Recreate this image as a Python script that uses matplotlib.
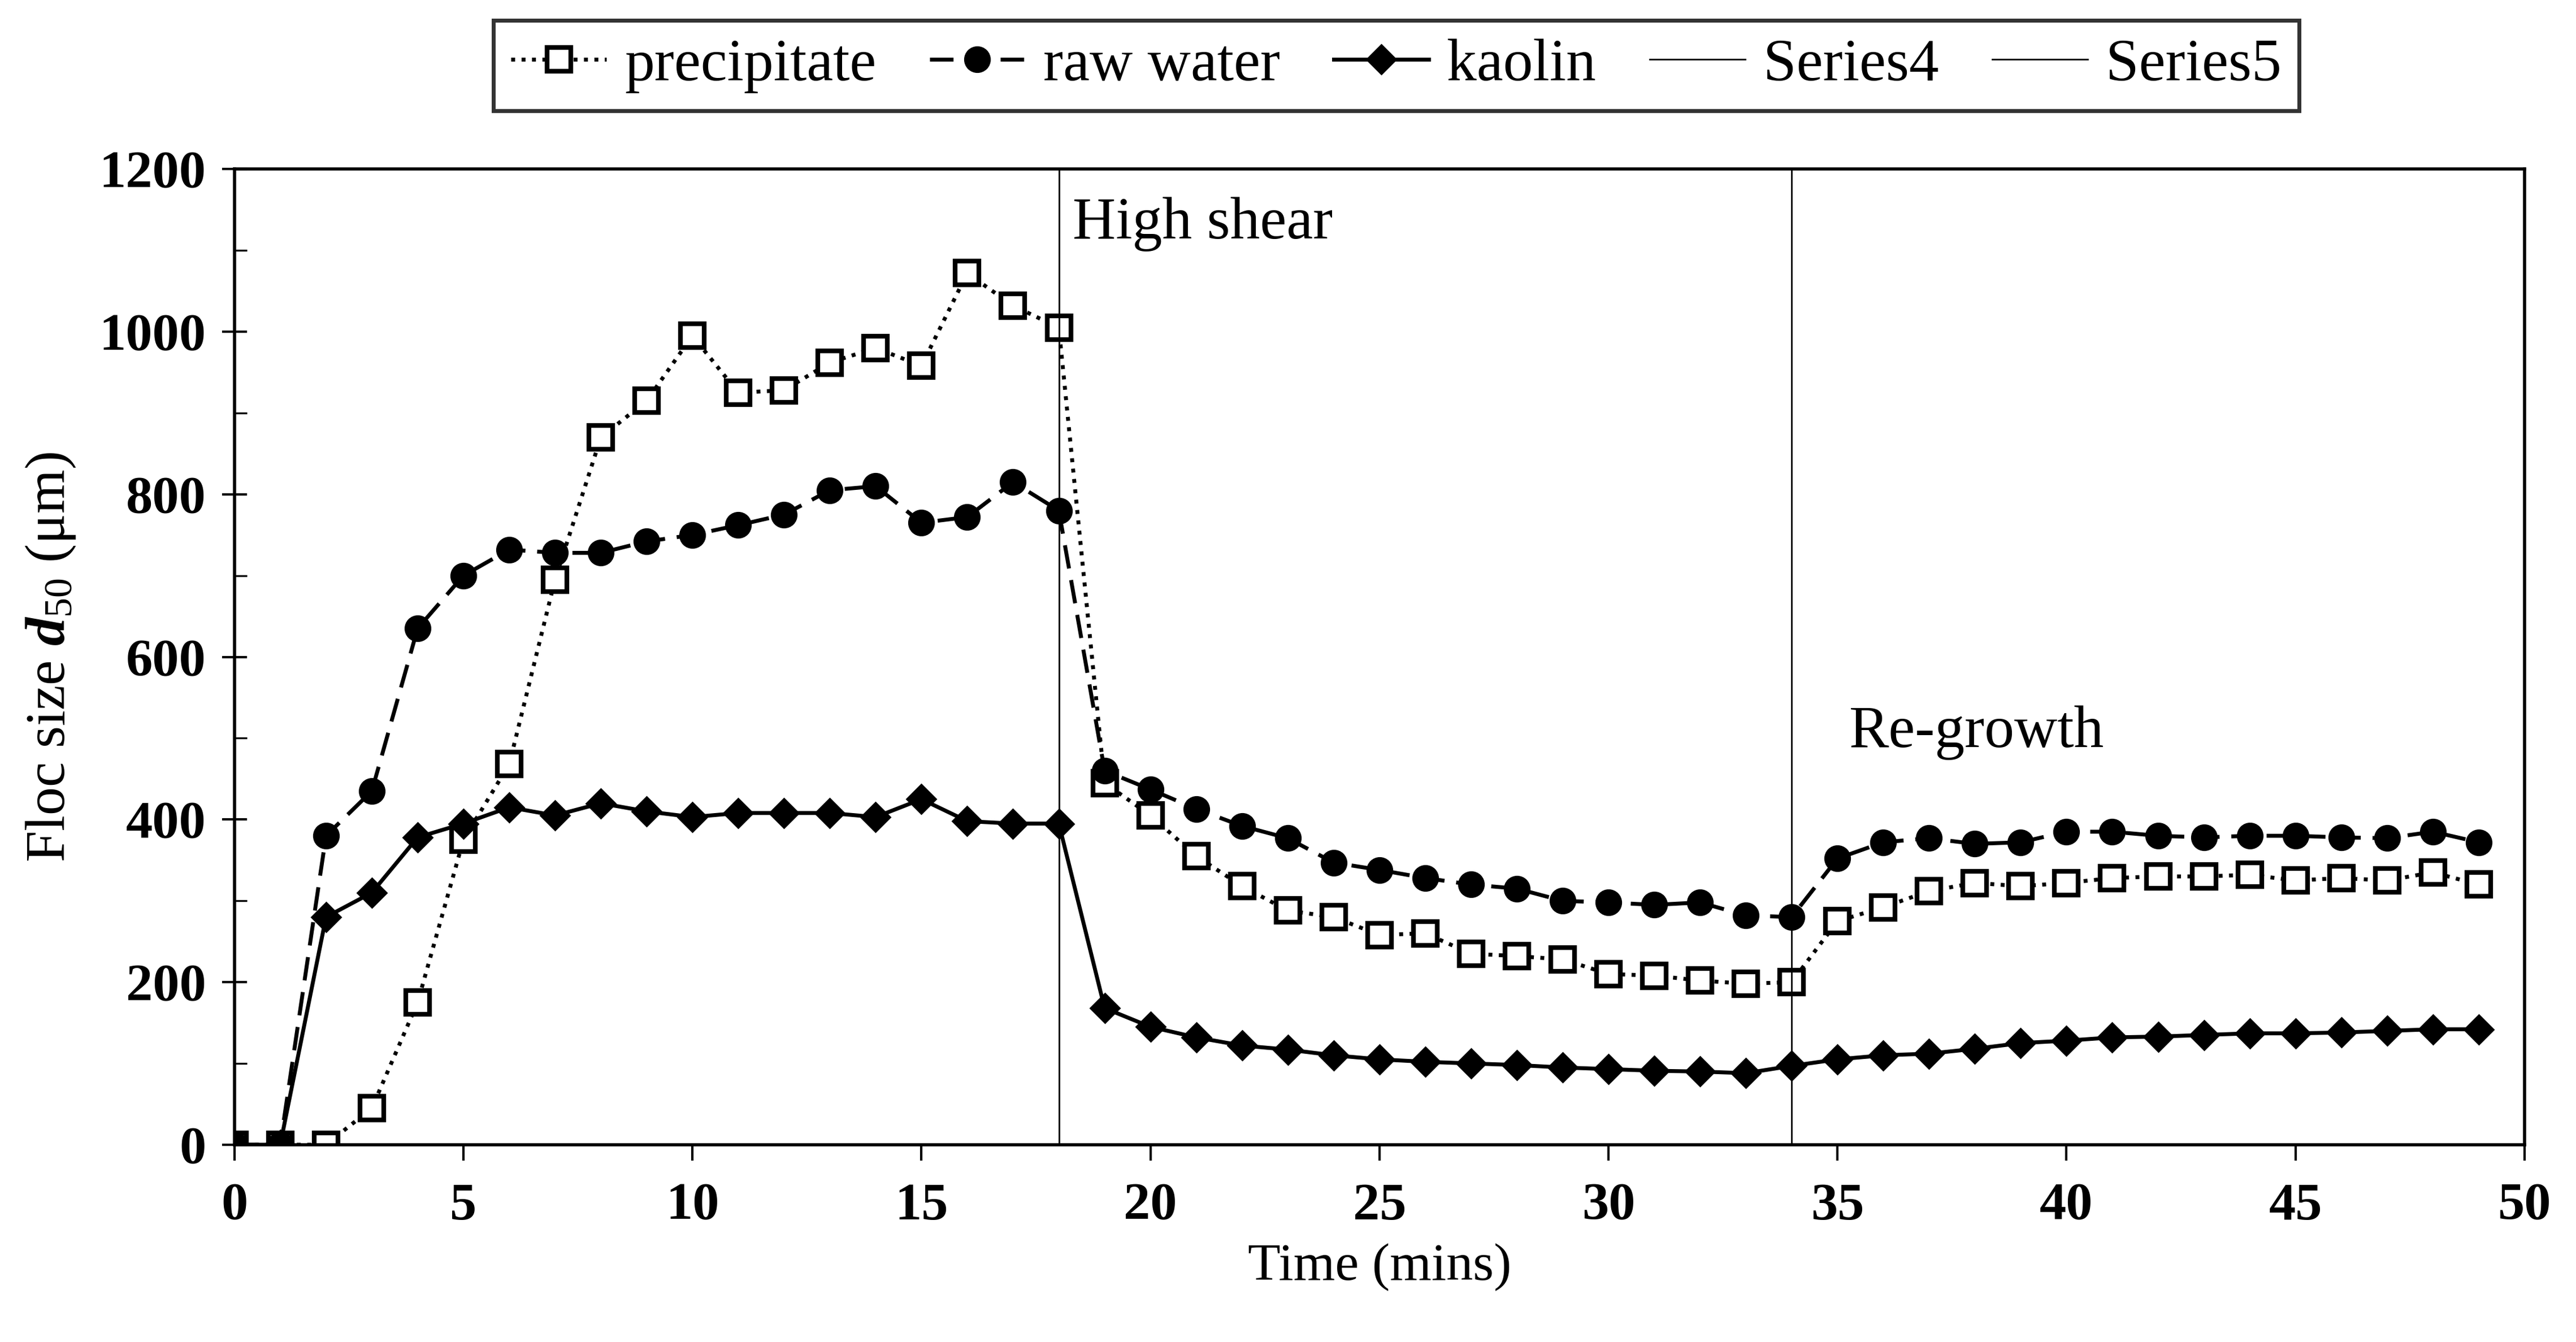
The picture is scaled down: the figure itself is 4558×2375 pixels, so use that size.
import matplotlib
matplotlib.use("Agg")
import matplotlib.pyplot as plt
from matplotlib.ticker import MultipleLocator

plt.rcParams['font.family'] = ['Liberation Serif', 'DejaVu Serif']
plt.rcParams['mathtext.fontset'] = 'custom'
plt.rcParams['mathtext.rm'] = 'Liberation Serif'
plt.rcParams['mathtext.it'] = 'Liberation Serif:italic:bold'
plt.rcParams['mathtext.bf'] = 'Liberation Serif:bold'

# time in minutes
time = list(range(50))

precipitate = [0, 0, 0, 45, 175, 375, 468, 695, 870, 915,
               995, 925, 928, 962, 980, 958, 1072, 1032, 1005, 445,
               405, 355, 318, 288, 280, 258, 260, 235, 232, 228,
               210, 208, 202, 198, 200, 275, 292, 312, 322, 318,
               322, 328, 330, 330, 332, 325, 328, 325, 335, 320]

raw_water = [0, 0, 380, 435, 635, 700, 732, 728, 728, 742,
             750, 762, 775, 805, 810, 765, 772, 815, 780, 460,
             437, 413, 392, 377, 347, 338, 328, 320, 315, 300,
             298, 295, 298, 282, 280, 352, 372, 377, 370, 372,
             385, 385, 380, 378, 380, 380, 378, 377, 385, 372]

kaolin = [0, 0, 280, 310, 378, 395, 415, 405, 420, 410,
          403, 408, 408, 408, 403, 425, 398, 395, 395, 168,
          145, 132, 122, 117, 110, 105, 102, 100, 98, 95,
          93, 91, 90, 88, 97, 105, 110, 112, 118, 125,
          128, 132, 133, 135, 137, 137, 138, 140, 142, 142]

# phase boundaries (Series4 / Series5)
series4_x = [18, 18]
series5_x = [34, 34]
boundary_y = [0, 1200]

fig, ax = plt.subplots(figsize=(22.79, 11.875), dpi=200)
fig.subplots_adjust(left=0.091, right=0.980, top=0.874, bottom=0.147)

ax.plot(time, precipitate, linestyle=':', color='black', lw=2.5, marker='s',
        markersize=15, markerfacecolor='white', markeredgecolor='black',
        markeredgewidth=3, label='precipitate')
ax.plot(time, raw_water, linestyle=(0, (6, 3)), color='black', lw=2.5, marker='o',
        markersize=16, markerfacecolor='black', markeredgecolor='black',
        label='raw water')
ax.plot(time, kaolin, linestyle='-', color='black', lw=2.5, marker='D',
        markersize=13, markerfacecolor='black', markeredgecolor='black',
        label='kaolin')
ax.plot(series4_x, boundary_y, color='black', lw=1.0, label='Series4')
ax.plot(series5_x, boundary_y, color='black', lw=1.0, label='Series5')

ax.text(18.3, 1115, 'High shear', fontsize=38)
ax.text(35.25, 489, 'Re-growth', fontsize=38)

ax.set_xlim(0, 50)
ax.set_ylim(0, 1200)
ax.xaxis.set_major_locator(MultipleLocator(5))
ax.yaxis.set_major_locator(MultipleLocator(200))
ax.yaxis.set_minor_locator(MultipleLocator(100))
ax.tick_params(axis='x', direction='out', length=10, width=1.5, labelsize=34, pad=14)
ax.tick_params(axis='y', which='major', direction='inout', length=16, width=1.5,
               labelsize=34, pad=10)
ax.tick_params(axis='y', which='minor', direction='in', length=8, width=1.2)
for lab in ax.get_xticklabels() + ax.get_yticklabels():
    lab.set_fontweight('bold')

for sp in ax.spines.values():
    sp.set_linewidth(2)

ax.set_xlabel('Time (mins)', fontsize=34, labelpad=8)
ax.set_ylabel(r'Floc size $d_{50}$ (μm)', fontsize=36, labelpad=14)

leg = fig.legend(loc='center', bbox_to_anchor=(0.542, 0.951), ncol=5,
                 fontsize=38, frameon=True, fancybox=False, edgecolor='black',
                 handlelength=1.6, columnspacing=0.9, handletextpad=0.3,
                 borderpad=0.3)
leg.get_frame().set_linewidth(2.5)

fig.savefig('out.png', dpi=200, facecolor='white')
